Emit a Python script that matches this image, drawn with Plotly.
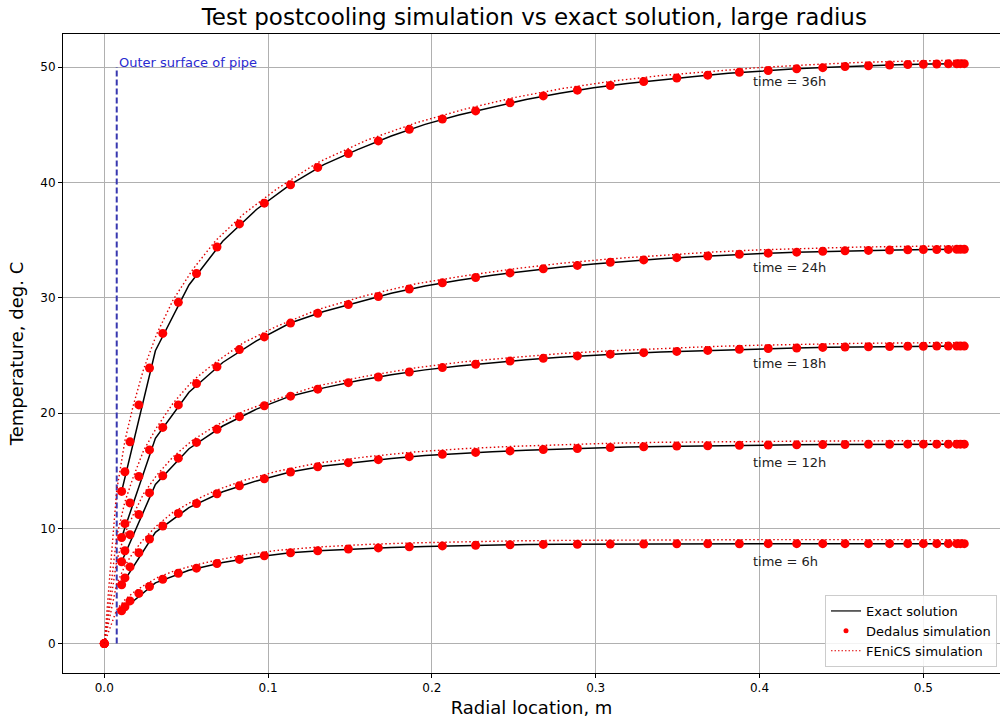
import plotly.graph_objects as go

# ---- data -----------------------------------------------------------------
times = ["6h", "12h", "18h", "24h", "36h"]

r_pipe = 0.0076          # outer surface of pipe, m
pipe_top = 50.0

# exact (analytical) solution grid
r_exact = [0.0106, 0.0312, 0.0517, 0.0723, 0.0929, 0.1135, 0.1340, 0.1546, 0.1752, 0.1958,
           0.2164, 0.2369, 0.2575, 0.2781, 0.2987, 0.3192, 0.3398, 0.3604, 0.3810, 0.4016,
           0.4221, 0.4427, 0.4633, 0.4839, 0.5044, 0.5250]
T_exact_6h = [2.85, 5.27, 6.36, 7.04, 7.52, 7.88, 8.08, 8.23, 8.34, 8.43,
              8.50, 8.55, 8.59, 8.61, 8.63, 8.64, 8.65, 8.66, 8.66, 8.67,
              8.67, 8.67, 8.67, 8.67, 8.67, 8.67]
T_exact_12h = [5.1, 9.65, 11.8, 13.17, 14.11, 14.88, 15.4, 15.75, 16.06, 16.31,
               16.5, 16.64, 16.77, 16.87, 16.96, 17.04, 17.1, 17.15, 17.19, 17.22,
               17.24, 17.26, 17.28, 17.29, 17.3, 17.3]
T_exact_18h = [7.1, 13.8, 16.9, 18.87, 20.34, 21.46, 22.18, 22.79, 23.31, 23.74,
               24.08, 24.37, 24.62, 24.84, 25.03, 25.17, 25.29, 25.39, 25.49, 25.58,
               25.64, 25.7, 25.74, 25.77, 25.79, 25.8]
T_exact_24h = [9.2, 17.8, 21.8, 24.38, 26.26, 27.8, 28.8, 29.62, 30.38, 31.02,
               31.52, 31.95, 32.32, 32.65, 32.93, 33.18, 33.38, 33.55, 33.71, 33.84,
               33.95, 34.03, 34.09, 34.14, 34.17, 34.2]
T_exact_36h = [13.2, 25.4, 31.1, 34.9, 37.65, 39.8, 41.54, 42.84, 44.02, 45.03,
               45.85, 46.54, 47.19, 47.74, 48.2, 48.58, 48.91, 49.19, 49.46, 49.67,
               49.85, 49.98, 50.1, 50.2, 50.26, 50.3]

# Dedalus (spectral) grid
r_dedalus = [0.0, 0.0106, 0.0126, 0.0157, 0.0211, 0.0276, 0.0357, 0.0452, 0.0563, 0.0688,
             0.0825, 0.0977, 0.1137, 0.1303, 0.1490, 0.1673, 0.1862, 0.2064, 0.2267, 0.2477,
             0.2680, 0.2888, 0.3089, 0.3293, 0.3495, 0.3684, 0.3877, 0.4053, 0.4227, 0.4386,
             0.4522, 0.4665, 0.4794, 0.4905, 0.5000, 0.5082, 0.5153, 0.5204, 0.5226, 0.5250]
T_dedalus_6h = [0.0, 2.85, 3.2, 3.7, 4.35, 4.95, 5.58, 6.1, 6.54, 6.95,
                7.3, 7.62, 7.88, 8.05, 8.2, 8.3, 8.4, 8.47, 8.53, 8.57,
                8.6, 8.62, 8.63, 8.64, 8.65, 8.66, 8.66, 8.67, 8.67, 8.67,
                8.67, 8.67, 8.67, 8.67, 8.67, 8.67, 8.67, 8.67, 8.67, 8.67]
T_dedalus_12h = [0.0, 5.1, 5.7, 6.65, 7.88, 9.07, 10.2, 11.29, 12.15, 13.0,
                 13.69, 14.3, 14.88, 15.33, 15.69, 15.95, 16.21, 16.42, 16.58, 16.71,
                 16.83, 16.92, 17.01, 17.07, 17.13, 17.16, 17.2, 17.22, 17.24, 17.26,
                 17.27, 17.28, 17.29, 17.3, 17.3, 17.3, 17.3, 17.3, 17.3, 17.3]
T_dedalus_18h = [0.0, 7.1, 8.05, 9.45, 11.2, 13.07, 14.55, 16.08, 17.45, 18.59,
                 19.68, 20.63, 21.46, 22.07, 22.63, 23.12, 23.56, 23.94, 24.23, 24.51,
                 24.74, 24.95, 25.1, 25.23, 25.34, 25.43, 25.52, 25.59, 25.64, 25.69,
                 25.72, 25.75, 25.77, 25.78, 25.79, 25.8, 25.8, 25.8, 25.8, 25.8]
T_dedalus_24h = [0.0, 9.2, 10.4, 12.2, 14.5, 16.8, 18.75, 20.7, 22.55, 24.0,
                 25.5, 26.6, 27.8, 28.65, 29.4, 30.1, 30.75, 31.3, 31.75, 32.15,
                 32.5, 32.8, 33.07, 33.28, 33.47, 33.62, 33.76, 33.86, 33.95, 34.02,
                 34.07, 34.1, 34.13, 34.15, 34.17, 34.18, 34.19, 34.2, 34.2, 34.2]
T_dedalus_36h = [0.0, 13.2, 14.9, 17.5, 20.7, 23.9, 26.9, 29.6, 32.1, 34.4,
                 36.4, 38.2, 39.8, 41.3, 42.5, 43.6, 44.6, 45.5, 46.2, 46.9,
                 47.5, 48.0, 48.4, 48.75, 49.05, 49.3, 49.55, 49.7, 49.85, 49.95,
                 50.05, 50.12, 50.18, 50.22, 50.25, 50.27, 50.28, 50.29, 50.3, 50.3]

# FEniCS (finite element) grid
r_fenics = [0.0, 0.0076, 0.0096, 0.0126, 0.0176, 0.024, 0.032, 0.042, 0.054, 0.068,
            0.085, 0.105, 0.13, 0.16, 0.19, 0.22, 0.25, 0.28, 0.31, 0.34,
            0.37, 0.40, 0.43, 0.46, 0.49, 0.525]
T_fenics_6h = [0.0, 2.95, 3.3, 3.8, 4.42, 5.03, 5.7, 6.27, 6.76, 7.22,
               7.67, 8.08, 8.37, 8.6, 8.74, 8.84, 8.91, 8.95, 8.98, 9.0,
               9.01, 9.02, 9.02, 9.02, 9.02, 9.02]
T_fenics_12h = [0.0, 5.2, 5.8, 6.75, 7.9, 9.05, 10.22, 11.4, 12.35, 13.28,
                14.15, 14.93, 15.65, 16.2, 16.63, 16.91, 17.11, 17.27, 17.38, 17.46,
                17.51, 17.54, 17.56, 17.58, 17.59, 17.6]
T_fenics_18h = [0.0, 7.2, 8.15, 9.55, 11.15, 13.0, 14.6, 16.2, 17.65, 18.9,
                20.15, 21.2, 22.35, 23.2, 23.92, 24.45, 24.82, 25.17, 25.4, 25.6,
                25.76, 25.88, 25.97, 26.04, 26.08, 26.1]
T_fenics_24h = [0.0, 9.3, 10.5, 12.3, 14.4, 16.75, 18.75, 20.85, 22.8, 24.4,
                26.1, 27.5, 28.95, 30.2, 31.2, 31.9, 32.5, 33.0, 33.38, 33.68,
                33.95, 34.15, 34.29, 34.39, 34.45, 34.5]
T_fenics_36h = [0.0, 13.3, 15.0, 17.6, 20.6, 23.8, 26.85, 29.8, 32.45, 34.95,
                37.25, 39.4, 41.7, 43.65, 45.15, 46.35, 47.35, 48.15, 48.78, 49.27,
                49.62, 49.96, 50.2, 50.4, 50.52, 50.6]

T_exact = [T_exact_6h, T_exact_12h, T_exact_18h, T_exact_24h, T_exact_36h]
T_dedalus = [T_dedalus_6h, T_dedalus_12h, T_dedalus_18h, T_dedalus_24h, T_dedalus_36h]
T_fenics = [T_fenics_6h, T_fenics_12h, T_fenics_18h, T_fenics_24h, T_fenics_36h]

label_x = 0.395

# ---- figure ---------------------------------------------------------------
FONT = "DejaVu Sans"
EXACT_LINE = dict(color="black", width=1.5)
DEDALUS_COLOR = "#ff0000"
FENICS_LINE = dict(color="#e00000", width=1.4, dash="1.5px,2.5px")

fig = go.Figure()

# pipe surface marker
fig.add_trace(go.Scatter(
    x=[r_pipe, r_pipe], y=[0, pipe_top], mode="lines",
    line=dict(color="#3838b0", width=2, dash="6px,3px"),
    showlegend=False, hoverinfo="skip"))

for i, t in enumerate(times):
    fig.add_trace(go.Scatter(
        x=r_exact, y=T_exact[i], mode="lines", line=EXACT_LINE,
        name="Exact solution", showlegend=False))
    fig.add_trace(go.Scatter(
        x=r_dedalus, y=T_dedalus[i], mode="markers",
        marker=dict(color=DEDALUS_COLOR, size=9),
        name="Dedalus simulation", showlegend=False))
    fig.add_trace(go.Scatter(
        x=r_fenics, y=T_fenics[i], mode="lines", line=FENICS_LINE,
        name="FEniCS simulation", showlegend=False))
    fig.add_annotation(
        x=label_x, y=T_exact[i][-1] - 1.55, text=f"time = {t}",
        showarrow=False, xanchor="left", yanchor="middle",
        font=dict(family=FONT, size=13, color="#222222"))

# legend entries with compact symbols
fig.add_trace(go.Scatter(x=[None], y=[None], mode="lines",
                         line=dict(color="black", width=1.2), name="Exact solution"))
fig.add_trace(go.Scatter(x=[None], y=[None], mode="markers",
                         marker=dict(color=DEDALUS_COLOR, size=5), name="Dedalus simulation"))
fig.add_trace(go.Scatter(x=[None], y=[None], mode="lines",
                         line=dict(color="#e00000", width=1, dash="1.5px,2px"),
                         name="FEniCS simulation"))

fig.add_annotation(
    x=r_pipe, y=pipe_top + 0.4, text="Outer surface of pipe",
    showarrow=False, xanchor="left", yanchor="middle",
    font=dict(family=FONT, size=13, color="#2a2ad0"))

axis_common = dict(
    showgrid=True, gridcolor="#b0b0b0", gridwidth=1,
    showline=True, linecolor="black", linewidth=1,
    ticks="outside", ticklen=4, tickcolor="black",
    tickfont=dict(family=FONT, size=12, color="black"),
    zeroline=False)

fig.update_xaxes(
    range=[-0.0252, 0.5468], tickvals=[0.0, 0.1, 0.2, 0.3, 0.4, 0.5],
    ticktext=["0.0", "0.1", "0.2", "0.3", "0.4", "0.5"], mirror=True,
    title=dict(text="Radial location, m", font=dict(family=FONT, size=18, color="black"), standoff=6),
    **axis_common)
fig.update_yaxes(
    range=[-2.55, 52.87], tickvals=[0, 10, 20, 30, 40, 50],
    title=dict(text="Temperature, deg. C", font=dict(family=FONT, size=18, color="black"), standoff=12),
    **axis_common)

fig.update_layout(
    width=1000, height=722,
    margin=dict(l=63, r=0, t=34, b=49),
    paper_bgcolor="white", plot_bgcolor="white",
    title=dict(text="Test postcooling simulation vs exact solution, large radius",
               xref="paper", x=0.503, xanchor="center", y=0.976, yanchor="middle",
               font=dict(family=FONT, size=23, color="black")),
    legend=dict(x=0.9968, y=0.0094, xanchor="right", yanchor="bottom",
                bgcolor="rgba(255,255,255,0.85)", bordercolor="#cccccc", borderwidth=1,
                font=dict(family=FONT, size=13, color="black"),
                tracegroupgap=0, itemwidth=30),
    showlegend=True,
)

fig.write_html("out.html")
